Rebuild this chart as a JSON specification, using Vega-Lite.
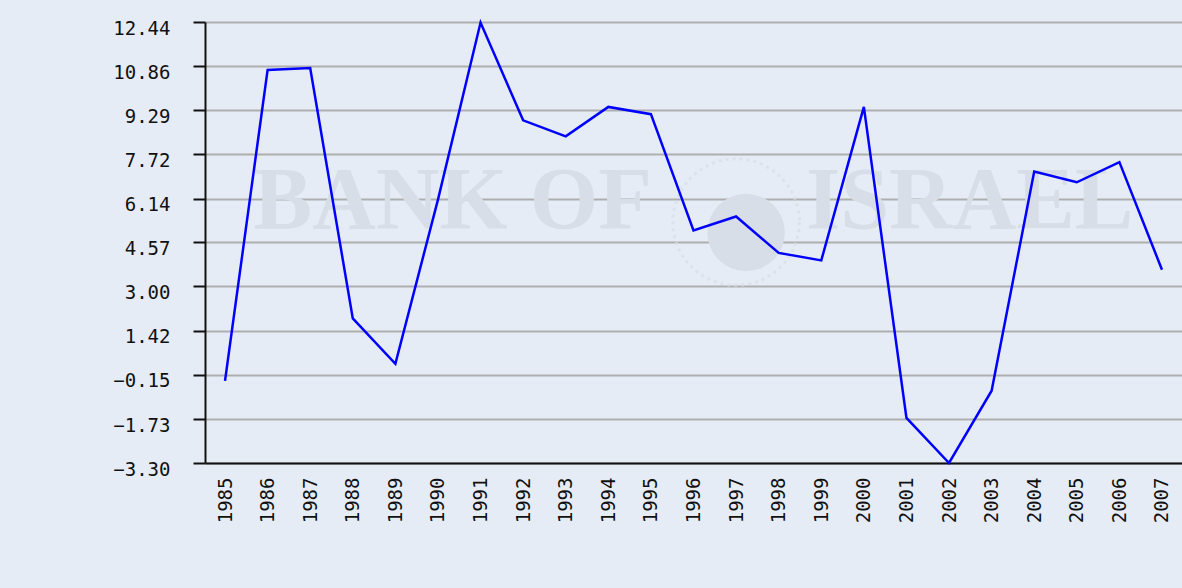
{
  "$schema": "https://vega.github.io/schema/vega-lite/v6.json",
  "width": 977,
  "height": 441,
  "autosize": {"type": "none"},
  "padding": {"left": 205, "top": 22, "right": 0, "bottom": 125},
  "background": "#e6ecf5",
  "config": {"view": {"stroke": null}},
  "data": {
    "values": [
      {"year": "1985", "value": -0.37},
      {"year": "1986", "value": 10.73},
      {"year": "1987", "value": 10.8},
      {"year": "1988", "value": 1.86},
      {"year": "1989", "value": 0.24},
      {"year": "1990", "value": 6.1},
      {"year": "1991", "value": 12.42},
      {"year": "1992", "value": 8.93},
      {"year": "1993", "value": 8.36},
      {"year": "1994", "value": 9.41},
      {"year": "1995", "value": 9.15},
      {"year": "1996", "value": 5.0},
      {"year": "1997", "value": 5.5},
      {"year": "1998", "value": 4.2},
      {"year": "1999", "value": 3.93},
      {"year": "2000", "value": 9.41},
      {"year": "2001", "value": -1.69},
      {"year": "2002", "value": -3.3},
      {"year": "2003", "value": -0.72},
      {"year": "2004", "value": 7.1},
      {"year": "2005", "value": 6.72},
      {"year": "2006", "value": 7.44},
      {"year": "2007", "value": 3.6}
    ]
  },
  "layer": [
    {
      "data": {"values": [{}]},
      "mark": {"type": "point", "filled": false, "shape": "circle", "size": 16000, "stroke": "#d9dfe8", "strokeWidth": 3, "strokeDash": [3, 4], "xOffset": 0},
      "encoding": {
        "x": {"datum": "1997", "type": "ordinal"},
        "y": {"datum": 5.3, "type": "quantitative"}
      }
    },
    {
      "data": {"values": [{}]},
      "mark": {"type": "point", "filled": true, "shape": "circle", "size": 6000, "color": "#d8dee7", "opacity": 1, "xOffset": 10},
      "encoding": {
        "x": {"datum": "1997", "type": "ordinal"},
        "y": {"datum": 4.93, "type": "quantitative"}
      }
    },
    {
      "data": {"values": [{}]},
      "mark": {"type": "text", "text": "BANK OF\u00a0\u00a0\u00a0\u00a0\u00a0\u00a0\u00a0ISRAEL", "font": "Liberation Serif", "fontSize": 88, "fontWeight": "bold", "color": "#d8dee7", "align": "center", "baseline": "alphabetic"},
      "encoding": {
        "x": {"datum": "1996", "type": "ordinal"},
        "y": {"datum": 5.07, "type": "quantitative"}
      }
    },
    {
      "mark": {"type": "line", "color": "#0000ff", "strokeWidth": 2.5},
      "encoding": {
        "x": {
          "field": "year",
          "type": "ordinal",
          "scale": {"type": "point", "padding": 0.47},
          "axis": {
            "title": null,
            "labelAngle": 270,
            "ticks": false,
            "labelPadding": 14,
            "labelFont": "DejaVu Sans Mono",
            "labelFontSize": 19,
            "labelColor": "#111111",
            "domainColor": "#111111",
            "domainWidth": 2,
            "grid": false
          }
        },
        "y": {
          "field": "value",
          "type": "quantitative",
          "scale": {"domain": [-3.3, 12.44], "nice": false, "zero": false},
          "axis": {
            "title": null,
            "values": [-3.3, -1.73, -0.15, 1.42, 3.0, 4.57, 6.14, 7.72, 9.29, 10.86, 12.44],
            "format": ".2f",
            "labelFont": "DejaVu Sans Mono",
            "labelFontSize": 19,
            "labelColor": "#111111",
            "labelPadding": 23,
            "labelBaseline": "middle",
            "labelOffset": 6,
            "tickSize": 12,
            "tickWidth": 2,
            "tickColor": "#111111",
            "domainColor": "#111111",
            "domainWidth": 2,
            "grid": true,
            "gridColor": "#aeaeae",
            "gridWidth": 2
          }
        }
      }
    }
  ]
}
